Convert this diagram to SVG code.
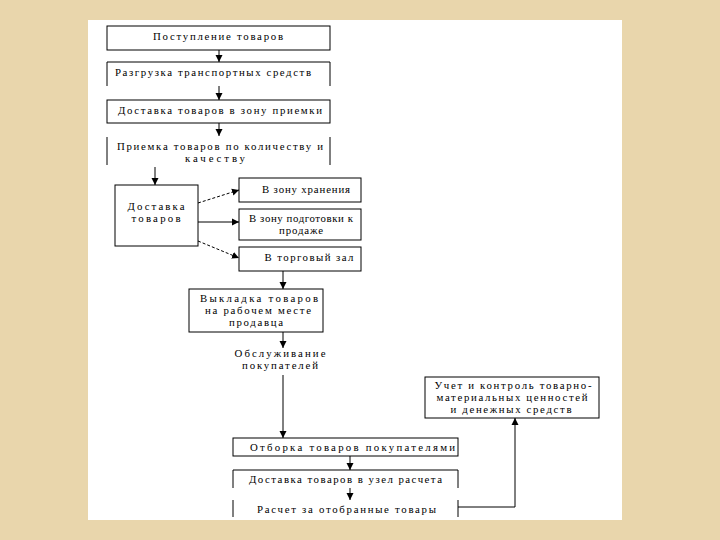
<svg xmlns="http://www.w3.org/2000/svg" width="720" height="540" viewBox="0 0 720 540">
<style>
.bx{fill:#fff;stroke:#000;stroke-width:1}
.ln{fill:none;stroke:#000;stroke-width:1}
.dl{fill:none;stroke:#000;stroke-width:1;stroke-dasharray:3,2}
text{font-family:"Liberation Serif","Times New Roman",serif;font-size:10.8px;fill:#000}
.c{text-anchor:middle}
</style>
<defs>
<marker id="ah" markerWidth="8" markerHeight="8" refX="7" refY="4" orient="auto" markerUnits="userSpaceOnUse">
<path d="M0,0.5 L7,4 L0,7.5 Z" fill="#000"/>
</marker>
</defs>
<rect x="0" y="0" width="720" height="540" fill="#E9D6AC"/>
<rect x="88" y="20" width="534" height="500" fill="#fff"/>

<g id="connectors">
<path class="ln" d="M219,50 V62" marker-end="url(#ah)"/>
<path class="ln" d="M219,86 V100" marker-end="url(#ah)"/>
<path class="ln" d="M219,123 V136" marker-end="url(#ah)"/>
<path class="ln" d="M155,167 V185" marker-end="url(#ah)"/>
<path class="dl" d="M198,203 L239,190" marker-end="url(#ah)"/>
<path class="ln" d="M198,222 H239" marker-end="url(#ah)"/>
<path class="dl" d="M198,241 L239,258" marker-end="url(#ah)"/>
<path class="ln" d="M283,271 V289" marker-end="url(#ah)"/>
<path class="ln" d="M283,332 V348" marker-end="url(#ah)"/>
<path class="ln" d="M283,375 V438" marker-end="url(#ah)"/>
<path class="ln" d="M350,456 V470" marker-end="url(#ah)"/>
<path class="ln" d="M350,488 V500" marker-end="url(#ah)"/>
<path class="ln" d="M458,507 H515 V418" marker-end="url(#ah)"/>
</g>

<g id="n1">
<rect class="bx" x="107" y="26" width="223" height="24"/>
<text x="218" y="40" class="c" textLength="130" lengthAdjust="spacing">Поступление товаров</text>
</g>
<g id="n2">
<path class="ln" d="M107,86 V62 H330 V86"/>
<text x="115" y="76" textLength="196" lengthAdjust="spacing">Разгрузка транспортных средств</text>
</g>
<g id="n3">
<rect class="bx" x="107" y="100" width="223" height="23"/>
<text x="118" y="114" textLength="204" lengthAdjust="spacing">Доставка товаров в зону приемки</text>
</g>
<g id="n4">
<path class="ln" d="M107,137 V165 M330,137 V165"/>
<text x="220" y="150" class="c" textLength="206" lengthAdjust="spacing">Приемка товаров по количеству и</text>
<text x="215" y="162" class="c" textLength="60" lengthAdjust="spacing">качеству</text>
</g>
<g id="n5">
<rect class="bx" x="115" y="185" width="83" height="61"/>
<text x="156" y="210" class="c" textLength="57" lengthAdjust="spacing">Доставка</text>
<text x="156" y="222" class="c" textLength="49" lengthAdjust="spacing">товаров</text>
</g>
<g id="n6">
<rect class="bx" x="239" y="178" width="122" height="24"/>
<text x="306" y="193" class="c" textLength="88" lengthAdjust="spacing">В зону хранения</text>
</g>
<g id="n7">
<rect class="bx" x="239" y="209" width="122" height="31"/>
<text x="301" y="222" class="c" textLength="104" lengthAdjust="spacing">В зону подготовки к</text>
<text x="301" y="234" class="c" textLength="44" lengthAdjust="spacing">продаже</text>
</g>
<g id="n8">
<rect class="bx" x="239" y="247" width="122" height="24"/>
<text x="309" y="261" class="c" textLength="89" lengthAdjust="spacing">В торговый зал</text>
</g>
<g id="n9">
<rect class="bx" x="189" y="289" width="134" height="43"/>
<text x="259" y="302" class="c" textLength="118" lengthAdjust="spacing">Выкладка товаров</text>
<text x="258" y="314" class="c" textLength="106" lengthAdjust="spacing">на рабочем месте</text>
<text x="256" y="326" class="c" textLength="54" lengthAdjust="spacing">продавца</text>
</g>
<g id="n10">
<text x="280" y="357" class="c" textLength="91" lengthAdjust="spacing">Обслуживание</text>
<text x="280" y="369" class="c" textLength="76" lengthAdjust="spacing">покупателей</text>
</g>
<g id="n11">
<rect class="bx" x="233" y="438" width="225" height="18"/>
<text x="250" y="451" textLength="205" lengthAdjust="spacing">Отборка товаров покупателями</text>
</g>
<g id="n12">
<path class="ln" d="M233,488 V470 H458 V488"/>
<text x="249" y="483" textLength="193" lengthAdjust="spacing">Доставка товаров в узел расчета</text>
</g>
<g id="n13">
<path class="ln" d="M233,500 V517 M458,500 V517"/>
<text x="257" y="513" textLength="179" lengthAdjust="spacing">Расчет за отобранные товары</text>
</g>
<g id="n14">
<rect class="bx" x="425" y="377" width="174" height="41"/>
<text x="513" y="389" class="c" textLength="157" lengthAdjust="spacing">Учет и контроль товарно-</text>
<text x="512" y="401" class="c" textLength="151" lengthAdjust="spacing">материальных ценностей</text>
<text x="511" y="413" class="c" textLength="121" lengthAdjust="spacing">и денежных средств</text>
</g>
</svg>
